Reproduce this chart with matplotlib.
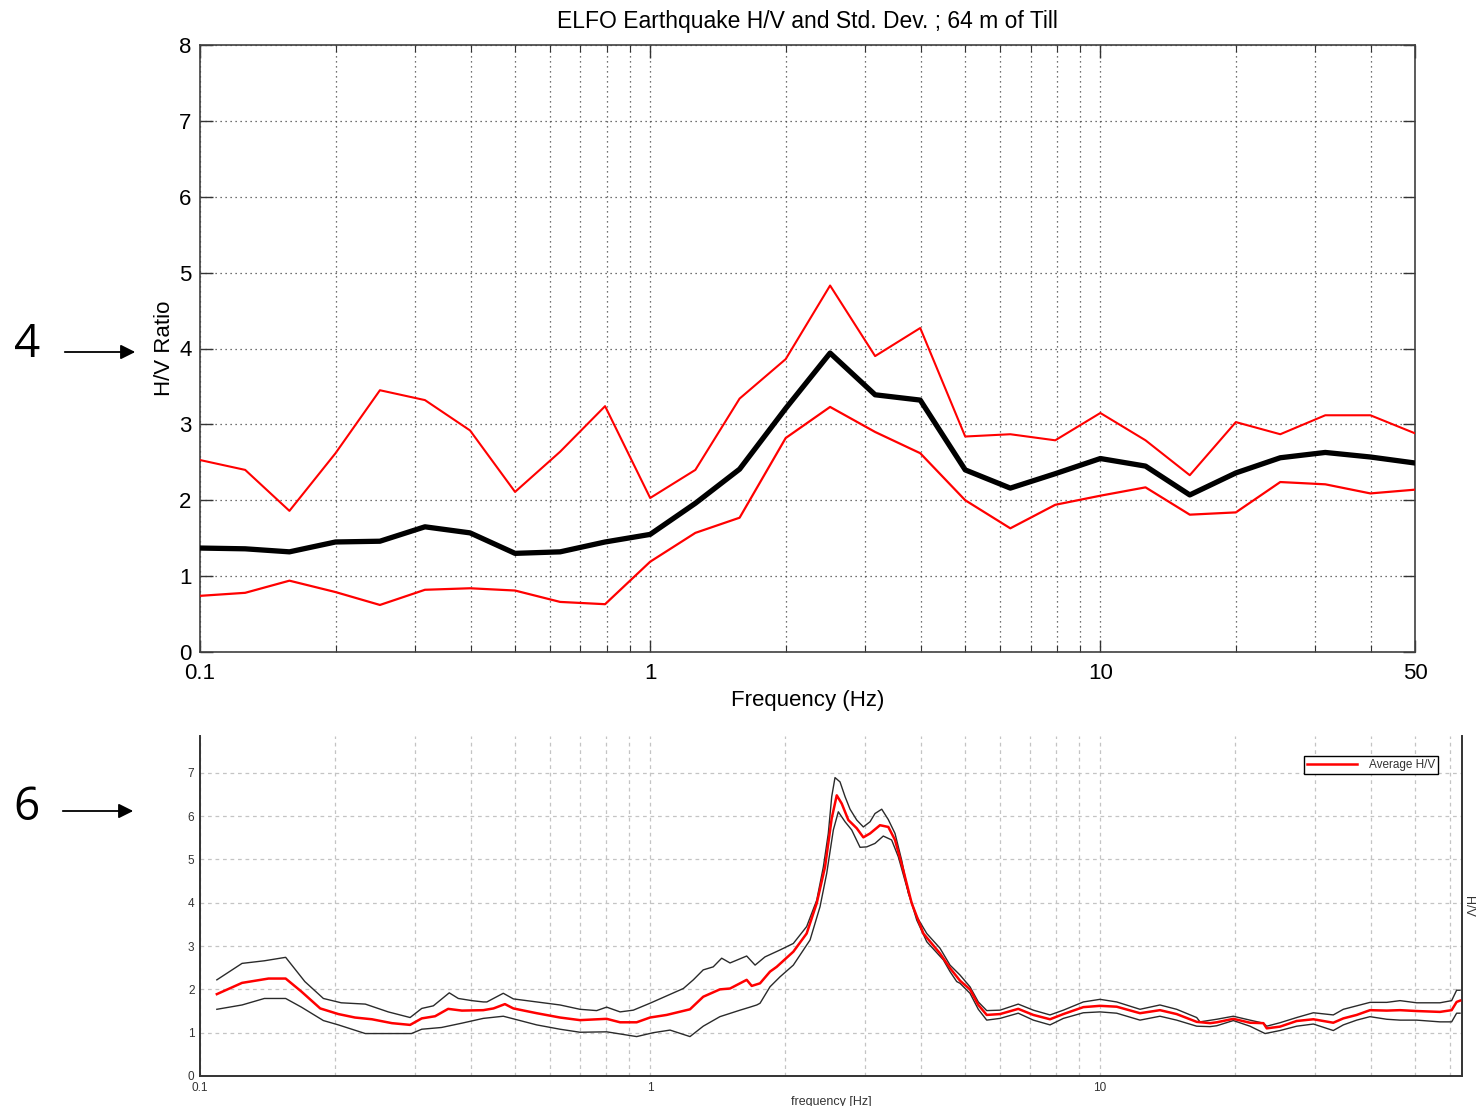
import matplotlib
matplotlib.use("Agg")
import matplotlib.pyplot as plt
from matplotlib.ticker import FixedLocator, LogLocator, NullFormatter

plt.rcParams['font.family'] = ['Liberation Sans', 'DejaVu Sans']

# ---------------- Top panel data (ELFO earthquake H/V) ----------------
top_freq = [0.1, 0.126, 0.158, 0.2, 0.251, 0.316, 0.398, 0.501, 0.631, 0.794,
            1.0, 1.26, 1.58, 2.0, 2.51, 3.16, 3.98, 5.01, 6.31, 7.94,
            10.0, 12.6, 15.8, 20.0, 25.1, 31.6, 39.8, 50.1]
top_mean = [1.37, 1.36, 1.32, 1.45, 1.46, 1.65, 1.57, 1.30, 1.32, 1.45,
            1.55, 1.96, 2.41, 3.21, 3.94, 3.39, 3.32, 2.40, 2.16, 2.35,
            2.55, 2.45, 2.07, 2.36, 2.56, 2.63, 2.57, 2.49]
top_upper = [2.53, 2.40, 1.86, 2.62, 3.45, 3.32, 2.92, 2.11, 2.64, 3.24,
             2.03, 2.40, 3.34, 3.86, 4.83, 3.90, 4.27, 2.84, 2.87, 2.79,
             3.15, 2.79, 2.33, 3.03, 2.87, 3.12, 3.12, 2.88]
top_lower = [0.74, 0.78, 0.94, 0.79, 0.62, 0.82, 0.84, 0.81, 0.66, 0.63,
             1.19, 1.57, 1.77, 2.82, 3.23, 2.90, 2.62, 2.00, 1.63, 1.94,
             2.06, 2.17, 1.81, 1.84, 2.24, 2.21, 2.09, 2.14]
top_xticks = [0.1, 1, 10, 50]
top_xticklabels = ['0.1', '1', '10', '50']
top_yticks = [0, 1, 2, 3, 4, 5, 6, 7, 8]

# ---------------- Bottom panel data (ambient noise H/V) ----------------
avg_freq = [0.109, 0.124, 0.142, 0.155, 0.168, 0.185, 0.203, 0.221, 0.241, 0.267,
            0.293, 0.311, 0.333, 0.356, 0.382, 0.426, 0.449, 0.476, 0.497, 0.560,
            0.631, 0.699, 0.801, 0.858, 0.934, 1.0, 1.089, 1.227, 1.313, 1.430,
            1.506, 1.640, 1.683, 1.756, 1.848, 1.912, 2.082, 2.229, 2.347, 2.449,
            2.534, 2.600, 2.667, 2.759, 2.880, 2.979, 3.083, 3.244, 3.385, 3.503,
            3.655, 3.815, 4.050, 4.410, 4.642, 4.886, 5.141, 5.365, 5.601, 5.995,
            6.581, 7.109, 7.743, 8.290, 9.182, 10.0, 10.89, 12.27, 13.59, 14.80,
            16.40, 17.56, 18.17, 19.78, 21.54, 23.07, 23.47, 25.12, 27.36, 29.79,
            32.99, 34.73, 37.19, 39.81, 43.37, 46.42, 50.55, 56.94, 60.45, 62.01,
            63.10]
avg_hv = [1.89, 2.15, 2.25, 2.25, 1.95, 1.56, 1.43, 1.35, 1.31, 1.22,
          1.18, 1.33, 1.38, 1.55, 1.51, 1.52, 1.56, 1.66, 1.56, 1.45,
          1.35, 1.29, 1.32, 1.24, 1.24, 1.35, 1.41, 1.54, 1.83, 2.00,
          2.02, 2.22, 2.08, 2.14, 2.41, 2.52, 2.87, 3.29, 3.99, 4.83,
          5.95, 6.48, 6.29, 5.91, 5.72, 5.51, 5.60, 5.79, 5.75, 5.45,
          4.75, 3.99, 3.29, 2.83, 2.49, 2.20, 2.00, 1.64, 1.41, 1.43,
          1.55, 1.41, 1.31, 1.43, 1.59, 1.62, 1.60, 1.45, 1.52, 1.43,
          1.25, 1.22, 1.24, 1.32, 1.23, 1.22, 1.10, 1.14, 1.27, 1.31,
          1.23, 1.33, 1.41, 1.52, 1.51, 1.52, 1.50, 1.48, 1.52, 1.71,
          1.74]

up_freq = [0.109, 0.124, 0.139, 0.155, 0.171, 0.188, 0.206, 0.233, 0.262, 0.293,
           0.311, 0.330, 0.358, 0.375, 0.402, 0.426, 0.434, 0.472, 0.497, 0.560,
           0.631, 0.699, 0.761, 0.801, 0.858, 0.918, 1.0, 1.089, 1.186, 1.248,
           1.313, 1.382, 1.443, 1.506, 1.640, 1.712, 1.801, 1.945, 2.082, 2.229,
           2.347, 2.428, 2.490, 2.534, 2.577, 2.644, 2.713, 2.783, 2.880, 2.979,
           3.083, 3.162, 3.273, 3.385, 3.503, 3.625, 3.750, 3.915, 4.121, 4.410,
           4.642, 4.886, 5.141, 5.365, 5.601, 5.995, 6.581, 7.109, 7.743, 8.290,
           9.182, 10.0, 10.89, 12.27, 13.59, 14.80, 16.40, 16.68, 18.17, 19.78,
           21.54, 23.07, 23.47, 25.12, 27.36, 29.79, 32.99, 34.73, 37.19, 39.81,
           43.37, 46.42, 50.55, 56.94, 60.45, 62.01, 63.10]
up_hv = [2.22, 2.60, 2.66, 2.74, 2.18, 1.79, 1.69, 1.66, 1.48, 1.35,
         1.56, 1.62, 1.92, 1.79, 1.74, 1.71, 1.71, 1.91, 1.78, 1.71,
         1.64, 1.54, 1.51, 1.59, 1.48, 1.52, 1.68, 1.85, 2.02, 2.22,
         2.45, 2.52, 2.72, 2.61, 2.77, 2.56, 2.75, 2.91, 3.06, 3.45,
         4.06, 4.83, 5.60, 6.45, 6.89, 6.79, 6.45, 6.16, 5.91, 5.75,
         5.87, 6.06, 6.16, 5.92, 5.60, 4.98, 4.22, 3.68, 3.29, 2.95,
         2.56, 2.33, 2.06, 1.71, 1.51, 1.52, 1.66, 1.52, 1.41, 1.52,
         1.71, 1.77, 1.71, 1.54, 1.64, 1.54, 1.35, 1.25, 1.31, 1.38,
         1.29, 1.22, 1.15, 1.23, 1.35, 1.46, 1.41, 1.54, 1.62, 1.70,
         1.70, 1.74, 1.69, 1.69, 1.74, 1.98, 1.98]

lo_freq = [0.109, 0.124, 0.139, 0.155, 0.168, 0.188, 0.203, 0.233, 0.262, 0.295,
           0.311, 0.344, 0.382, 0.426, 0.472, 0.497, 0.560, 0.631, 0.699, 0.801,
           0.934, 1.017, 1.108, 1.227, 1.313, 1.430, 1.585, 1.668, 1.727, 1.756,
           1.848, 1.945, 2.082, 2.268, 2.387, 2.470, 2.555, 2.621, 2.713, 2.807,
           2.929, 3.031, 3.162, 3.299, 3.443, 3.563, 3.719, 3.915, 4.121, 4.486,
           4.642, 4.804, 4.886, 5.141, 5.365, 5.601, 5.995, 6.581, 7.109, 7.743,
           8.290, 9.182, 10.0, 10.89, 12.27, 13.59, 14.80, 16.40, 17.56, 18.17,
           19.78, 21.54, 23.27, 25.12, 27.36, 29.79, 32.99, 34.73, 37.19, 39.81,
           43.37, 46.42, 50.55, 56.94, 60.45, 62.01, 63.10]
lo_hv = [1.54, 1.64, 1.79, 1.79, 1.59, 1.28, 1.18, 0.98, 0.98, 0.98,
         1.08, 1.12, 1.22, 1.33, 1.38, 1.32, 1.18, 1.08, 1.01, 1.02,
         0.91, 1.00, 1.06, 0.91, 1.15, 1.37, 1.52, 1.59, 1.64, 1.68,
         2.06, 2.29, 2.56, 3.14, 3.91, 4.68, 5.68, 6.10, 5.87, 5.68,
         5.28, 5.29, 5.37, 5.54, 5.45, 5.06, 4.37, 3.60, 3.10, 2.68,
         2.41, 2.18, 2.14, 1.91, 1.54, 1.29, 1.33, 1.45, 1.29, 1.18,
         1.33, 1.46, 1.48, 1.45, 1.29, 1.38, 1.29, 1.15, 1.14, 1.16,
         1.28, 1.15, 0.98, 1.05, 1.15, 1.20, 1.05, 1.18, 1.29, 1.37,
         1.31, 1.29, 1.29, 1.25, 1.25, 1.45, 1.45]
bot_xticks = [0.1, 1, 10]
bot_xticklabels = ['0.1', '1', '10']
bot_yticks = [0, 1, 2, 3, 4, 5, 6, 7]

W, H = 1477, 1106
fig = plt.figure(figsize=(W / 100, H / 100), dpi=100)

# ---------------- Top axes ----------------
ax1 = fig.add_axes([200 / W, 1 - 652 / H, (1415 - 200) / W, (652 - 45) / H])
ax1.set_xscale('log')
ax1.plot(top_freq, top_upper, color='#ff0000', lw=1.5, zorder=3)
ax1.plot(top_freq, top_lower, color='#ff0000', lw=1.6, zorder=3)
ax1.plot(top_freq, top_mean, color='black', lw=3.8, zorder=4)
ax1.set_xlim(0.1, 50)
ax1.set_ylim(0, 8)
ax1.xaxis.set_major_locator(FixedLocator(top_xticks))
ax1.set_xticklabels(top_xticklabels)
ax1.xaxis.set_minor_locator(LogLocator(base=10, subs=[2, 3, 4, 5, 6, 7, 8, 9], numticks=20))
ax1.xaxis.set_minor_formatter(NullFormatter())
ax1.set_yticks(top_yticks)
ax1.grid(True, which='both', axis='x', linestyle=(0, (1, 3)), color='#444444', lw=0.9)
ax1.grid(True, which='major', axis='y', linestyle=(0, (1, 3)), color='#444444', lw=0.9)
ax1.tick_params(axis='y', which='major', direction='in', length=9, width=1,
                right=True, labelsize=16, color='#333333', pad=6)
ax1.tick_params(axis='x', which='major', direction='in', length=9, width=1,
                top=True, labelsize=16, color='#333333', pad=8)
ax1.tick_params(axis='x', which='minor', direction='in', length=5, width=0.8,
                top=True, color='#333333')
for s in ax1.spines.values():
    s.set_color('#404040')
    s.set_linewidth(1.2)
ax1.set_title('ELFO Earthquake H/V and Std. Dev. ; 64 m of Till', fontsize=16.5, pad=12)
ax1.set_xlabel('Frequency (Hz)', fontsize=16, labelpad=4)
ax1.set_ylabel('H/V Ratio', fontsize=16, labelpad=3)

# ---------------- Bottom axes ----------------
ax2 = fig.add_axes([200 / W, 1 - 1076 / H, (1462 - 200) / W, (1076 - 736) / H])
ax2.set_xscale('log')
ax2.plot(up_freq, up_hv, color='#2a2a2a', lw=1.0, zorder=3)
ax2.plot(lo_freq, lo_hv, color='#2a2a2a', lw=1.0, zorder=3)
ax2.plot(avg_freq, avg_hv, color='#ff0000', lw=1.8, zorder=4, label='Average H/V')
ax2.set_xlim(0.1, 63.74)
ax2.set_ylim(0, 7.85)
ax2.xaxis.set_major_locator(FixedLocator(bot_xticks))
ax2.set_xticklabels(bot_xticklabels)
ax2.xaxis.set_minor_locator(LogLocator(base=10, subs=[2, 3, 4, 5, 6, 7, 8, 9], numticks=20))
ax2.xaxis.set_minor_formatter(NullFormatter())
ax2.set_yticks(bot_yticks)
ax2.grid(True, which='both', axis='x', linestyle=(0, (3, 3)), color='#c4c4c4', lw=0.9)
ax2.grid(True, which='major', axis='y', linestyle=(0, (3, 3)), color='#c4c4c4', lw=0.9)
ax2.tick_params(axis='both', which='both', length=0, labelsize=8.5,
                labelcolor='#333333', pad=4)
ax2.spines['top'].set_visible(False)
for k in ['left', 'bottom', 'right']:
    ax2.spines[k].set_color('#333333')
    ax2.spines[k].set_linewidth(1.4)
ax2.set_xlabel('frequency [Hz]', fontsize=9, color='#333333', labelpad=2)
ax2.yaxis.set_label_position('right')
ax2.set_ylabel('H/V', fontsize=9, color='#333333', rotation=270, labelpad=0)
ax2.yaxis.set_label_coords(1.0095, 0.5)
leg = ax2.legend(loc='upper right', bbox_to_anchor=(0.981, 0.941), borderaxespad=0,
                 fontsize=8.5, handlelength=4.2, handletextpad=1.0, borderpad=0.25,
                 fancybox=False, framealpha=1, edgecolor='black')
leg.get_frame().set_linewidth(1.0)
for t in leg.get_texts():
    t.set_color('#333333')

# ---------------- Annotations ----------------
fig.text(27 / W, 1 - 345 / H, '4', fontsize=33, family=['Open Sans', 'DejaVu Sans'],
         ha='center', va='center')
fig.text(27 / W, 1 - 808 / H, '6', fontsize=33, family=['Open Sans', 'DejaVu Sans'],
         ha='center', va='center')
for (x0, x1, yy) in [(62, 138, 352), (60, 136, 811)]:
    fig.add_artist(matplotlib.patches.FancyArrowPatch(
        (x0 / W, 1 - yy / H), (x1 / W, 1 - yy / H), transform=fig.transFigure,
        arrowstyle='-|>', mutation_scale=22, color='black', lw=1.3))

fig.savefig('out.png', dpi=100)
